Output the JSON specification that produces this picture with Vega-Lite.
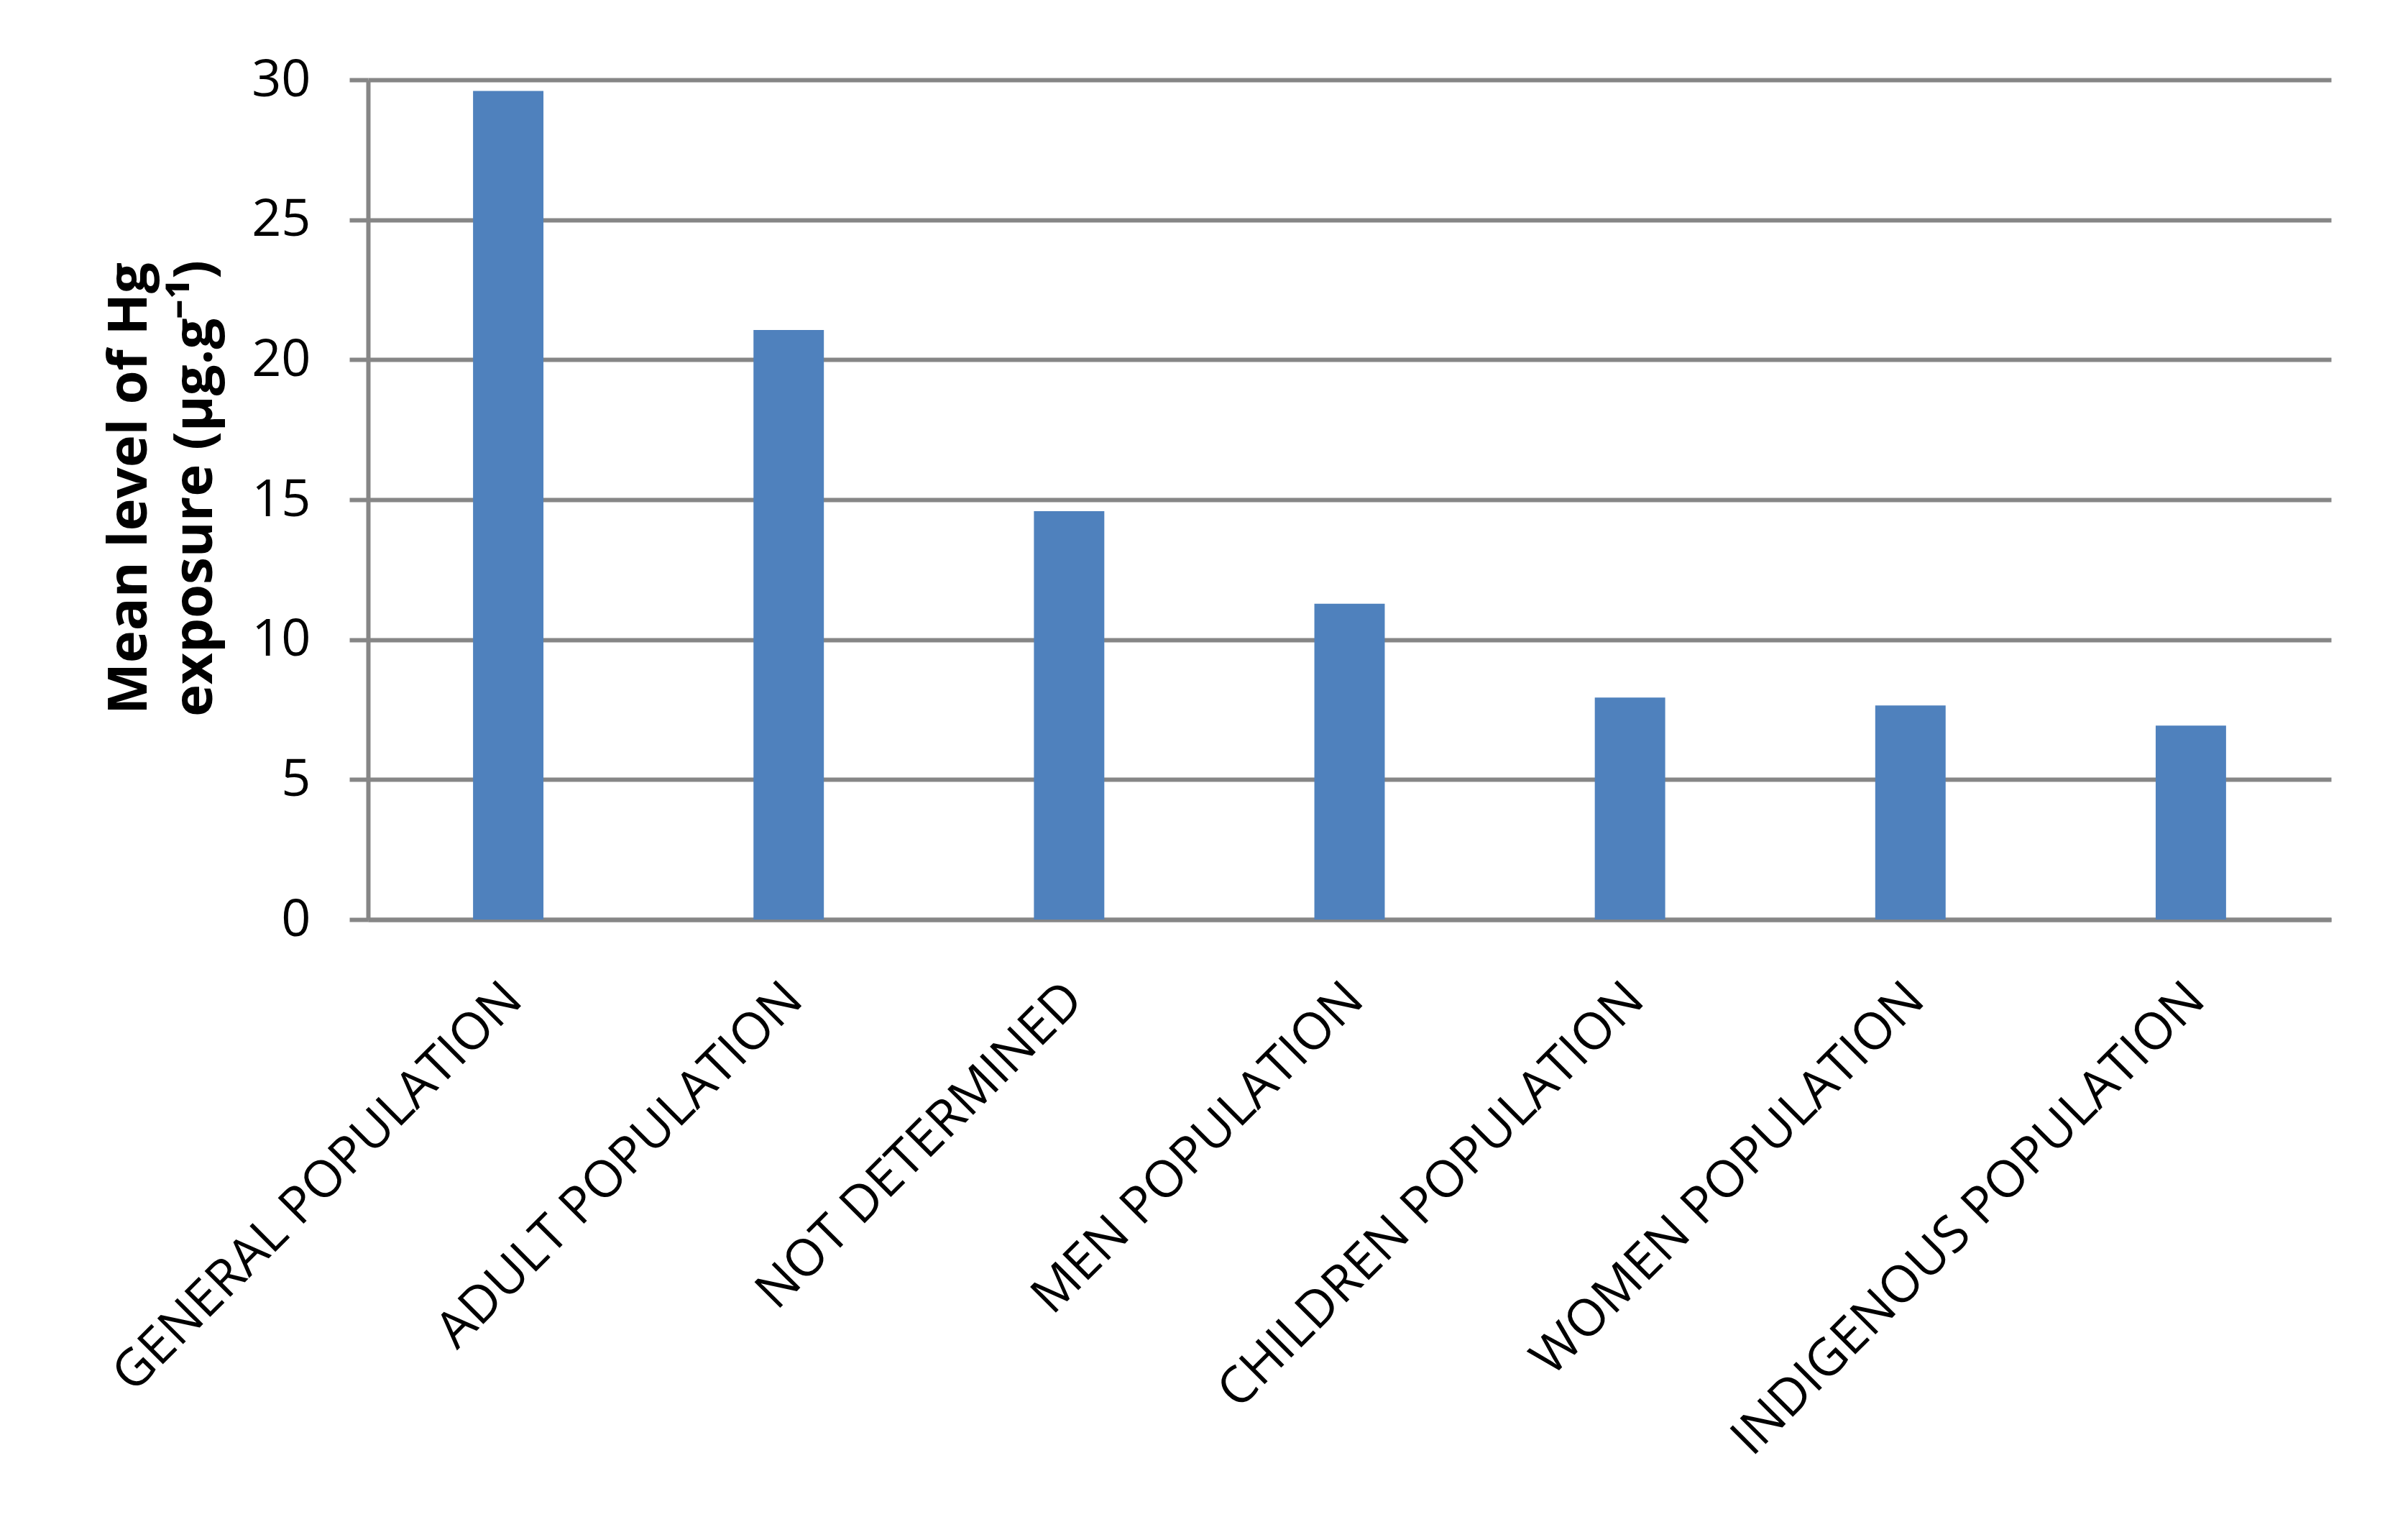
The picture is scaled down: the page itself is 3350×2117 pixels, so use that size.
{
  "$schema": "https://vega.github.io/schema/vega-lite/v6.json",
  "autosize": "none",
  "width": 2731,
  "height": 1168,
  "padding": {"left": 512, "top": 111, "right": 107, "bottom": 838},
  "background": "white",
  "data": {
    "values": [
      {"group": "GENERAL POPULATION", "mean": 29.6},
      {"group": "ADULT POPULATION", "mean": 21.06},
      {"group": "NOT DETERMINED", "mean": 14.59},
      {"group": "MEN POPULATION", "mean": 11.28},
      {"group": "CHILDREN POPULATION", "mean": 7.93},
      {"group": "WOMEN POPULATION", "mean": 7.65},
      {"group": "INDIGENOUS POPULATION", "mean": 6.93}
    ]
  },
  "mark": {"type": "bar", "color": "#4F81BD"},
  "encoding": {
    "x": {
      "field": "group",
      "type": "nominal",
      "sort": null,
      "scale": {"paddingInner": 0.749, "paddingOuter": 0.3745},
      "axis": {
        "title": null,
        "labelAngle": -45,
        "labelAlign": "right",
        "labelBaseline": "middle",
        "labelFont": "Open Sans",
        "labelFontSize": 71,
        "labelFontWeight": 500,
        "labelColor": "black",
        "labelPadding": 100,
        "labelOffset": 8,
        "labelLimit": 0,
        "labelOverlap": false,
        "ticks": false,
        "tickSize": 0,
        "domain": true,
        "domainColor": "#868686",
        "domainWidth": 6,
        "grid": false
      }
    },
    "y": {
      "field": "mean",
      "type": "quantitative",
      "scale": {"domain": [0, 30], "nice": false, "zero": true},
      "axis": {
        "values": [0, 5, 10, 15, 20, 25, 30],
        "title": ["Mean level of Hg", "exposure (µg.g⁻¹)"],
        "titleFont": "Open Sans",
        "titleFontSize": 76,
        "titleFontWeight": "bold",
        "titleColor": "black",
        "titleAngle": -90,
        "titleAlign": "center",
        "titleBaseline": "middle",
        "titleLineHeight": 91,
        "titleX": -332,
        "titleY": 568,
        "labelFont": "Open Sans",
        "labelFontSize": 72,
        "labelFontWeight": 500,
        "labelColor": "black",
        "labelPadding": 54,
        "tickSize": 26,
        "tickWidth": 6,
        "tickColor": "#868686",
        "domain": true,
        "domainColor": "#868686",
        "domainWidth": 6,
        "grid": true,
        "gridColor": "#868686",
        "gridWidth": 6
      }
    }
  },
  "config": {
    "view": {"stroke": null}
  }
}
